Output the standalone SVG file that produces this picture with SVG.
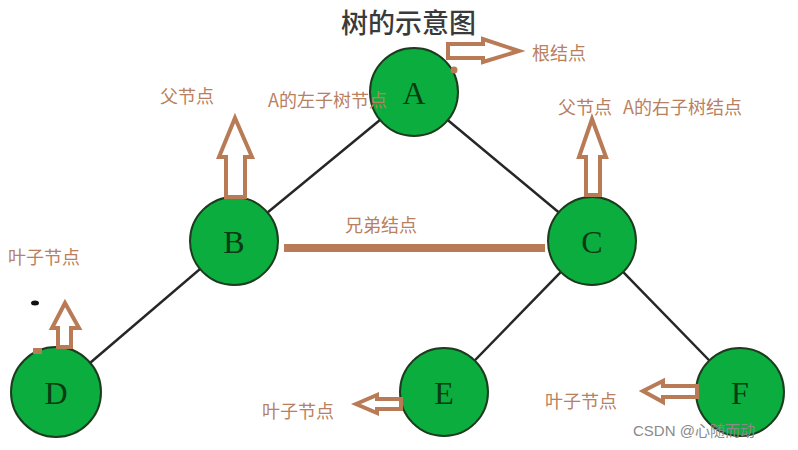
<svg xmlns="http://www.w3.org/2000/svg" width="798" height="450" viewBox="0 0 798 450">
<style>
.edge{stroke:#262626;stroke-width:2.5;fill:none}
.node circle{fill:#0aad3e;stroke:#1d3b1f;stroke-width:2}
.node text{font-family:"Liberation Serif","DejaVu Serif",serif;font-size:32px;fill:#0c3a12;text-anchor:middle;dominant-baseline:central}
.lbl{font-family:"Noto Sans CJK SC","Noto Sans",sans-serif;font-size:18px;fill:#b9805f}
.arr{fill:#fff;stroke:#b97a56;stroke-width:4;stroke-linejoin:miter}
.title{font-family:"Noto Sans CJK SC",sans-serif;font-size:27px;fill:#3a3a3a;font-weight:500}
</style>
<rect width="798" height="450" fill="#fff"/>
<text class="title" x="341" y="33">树的示意图</text>
<g id="connectors">
<line class="edge" x1="414" y1="92" x2="234" y2="240"/>
<line class="edge" x1="414" y1="92" x2="592" y2="240"/>
<line class="edge" x1="234" y1="240" x2="56" y2="392"/>
<line class="edge" x1="592" y1="240" x2="444" y2="392"/>
<line class="edge" x1="592" y1="240" x2="740" y2="392"/>
</g>
<g id="A" class="node"><circle cx="414" cy="92" r="44"/><text x="414" y="93">A</text></g>
<g id="B" class="node"><circle cx="234" cy="241" r="44"/><text x="234" y="242">B</text></g>
<g id="C" class="node"><circle cx="592" cy="241" r="44"/><text x="592" y="242">C</text></g>
<g id="D" class="node"><circle cx="56" cy="392" r="45"/><text x="56" y="393">D</text></g>
<g id="E" class="node"><circle cx="444" cy="392" r="44"/><text x="444" y="393">E</text></g>
<g id="F" class="node"><circle cx="740" cy="392" r="44"/><text x="740" y="393">F</text></g>
<g id="annotations">
<polygon class="arr" points="448,44 483,44 483,39 519,51 483,62 483,58 448,58"/>
<circle cx="454" cy="70" r="3.5" fill="#b97a56"/>
<polygon class="arr" points="235,118 252,157 245,157 245,197 226,197 226,157 219,157"/>
<polygon class="arr" points="592,119 606,157 600,157 600,195 586,195 586,157 579,157"/>
<polygon class="arr" points="65,303 79,328 71,328 71,347 58,347 58,328 52,328"/>
<rect x="33" y="348" width="9" height="6" fill="#b97a56"/>
<ellipse cx="35" cy="303" rx="4" ry="2.5" fill="#111"/>
<polygon class="arr" points="356,404 377,395 377,399 401,399 401,409 377,409 377,413"/>
<polygon class="arr" points="643,391 663,381 663,386 697,386 697,397 663,397 663,402"/>
<rect x="284" y="244" width="261" height="8" fill="#b97a56"/>
<text class="lbl" x="532" y="60">根结点</text>
<text class="lbl" x="160" y="103">父节点</text>
<text class="lbl" x="268" y="107">A的左子树节点</text>
<text class="lbl" x="558" y="114">父节点</text>
<text class="lbl" x="623" y="114">A的右子树结点</text>
<text class="lbl" x="8" y="264">叶子节点</text>
<text class="lbl" x="345" y="232">兄弟结点</text>
<text class="lbl" x="262" y="418">叶子节点</text>
<text class="lbl" x="545" y="408">叶子节点</text>
<text x="633" y="436" font-family="Liberation Sans,Noto Sans CJK SC,sans-serif" font-size="15" fill="#8a8a8a">CSDN @心随而动</text>
</g>
</svg>
